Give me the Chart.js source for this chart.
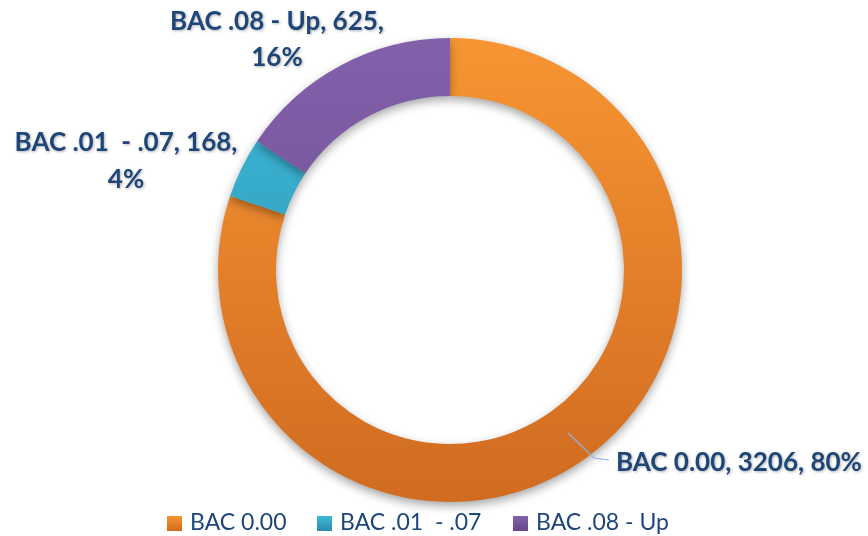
<!DOCTYPE html>
<html>
<head>
<meta charset="utf-8">
<script src="https://cdn.jsdelivr.net/npm/chart.js@4"></script>
<style>
  body{margin:0;background:#fff;}
  #wrap{width:868px;height:536px;position:relative;}
</style>
</head>
<body>
<div id="wrap"><canvas id="myChart" width="868" height="536"></canvas></div>
<script>
var categories=['BAC 0.00','BAC .01  - .07','BAC .08 - Up'];
var counts=[3206,168,625];
var percents=['80%','4%','16%'];
var topColors=['#f79533','#3dbad9','#8261ab'];
var bottomColors=['#d06b20','#2a8bab','#654688'];
var labelColor='#1f4678';

// label text lines
var labelLines=[
  [categories[0]+', '+counts[0]+', '+percents[0]],
  [categories[1]+', '+counts[1]+',',percents[1]],
  [categories[2]+', '+counts[2]+',',percents[2]]
];

var ctx=document.getElementById('myChart').getContext('2d');

function grad(chart,i){
  var area=chart.chartArea;
  if(!area) return topColors[i];
  var g=chart.ctx.createLinearGradient(0,area.top,0,area.bottom);
  g.addColorStop(0,topColors[i]);
  g.addColorStop(1,bottomColors[i]);
  return g;
}

var shadowPlugin={
  id:'shadow',
  beforeDatasetsDraw(chart){
    var c=chart.ctx;
    c.save();
    c.shadowColor='rgba(0,0,0,0.35)';
    c.shadowBlur=10;
    c.shadowOffsetY=4;
  },
  afterDatasetsDraw(chart){
    chart.ctx.restore();
  }
};

var labelPlugin={
  id:'sliceLabels',
  afterDraw(chart){
    var c=chart.ctx;
    c.save();
    c.font='bold 26px Lato';
    c.fillStyle=labelColor;
    c.shadowColor='rgba(0,0,0,0.3)';
    c.shadowBlur=3;
    c.shadowOffsetX=1;
    c.shadowOffsetY=1;
    c.textBaseline='middle';

    // leader line for the big slice
    c.save();
    c.shadowColor='transparent';
    c.strokeStyle='#8db3e2';
    c.lineWidth=1.2;
    c.beginPath();
    c.moveTo(568,433);
    c.lineTo(594,458);
    c.lineTo(609,460);
    c.stroke();
    c.restore();
    c.textAlign='left';
    c.fillText(labelLines[0][0],616,463);

    c.textAlign='center';
    c.fillText(labelLines[1][0],126,143);
    c.fillText(labelLines[1][1],126,180);
    c.fillText(labelLines[2][0],277,22);
    c.fillText(labelLines[2][1],277,58);
    c.restore();

    // legend
    c.save();
    c.font='23px Lato';
    c.textBaseline='middle';
    c.textAlign='left';
    var xs=[167,317,513];
    for(var i=0;i<categories.length;i++){
      var g=c.createLinearGradient(0,516,0,531);
      g.addColorStop(0,topColors[i]);
      g.addColorStop(1,bottomColors[i]);
      c.fillStyle=g;
      c.fillRect(xs[i],516,15,15);
      c.fillStyle=labelColor;
      c.fillText(categories[i],xs[i]+23,523);
    }
    c.restore();
  }
};

var chart=new Chart(ctx,{
  type:'doughnut',
  data:{
    labels:categories,
    datasets:[{
      data:counts,
      backgroundColor:function(context){return grad(context.chart,context.dataIndex);},
      borderWidth:0
    }]
  },
  options:{
    responsive:false,
    animation:false,
    cutout:'75%',
    layout:{padding:{left:218,right:186,top:38,bottom:34}},
    plugins:{
      legend:{display:false},
      tooltip:{enabled:false}
    }
  },
  plugins:[shadowPlugin,labelPlugin]
});
</script>
</body>
</html>
